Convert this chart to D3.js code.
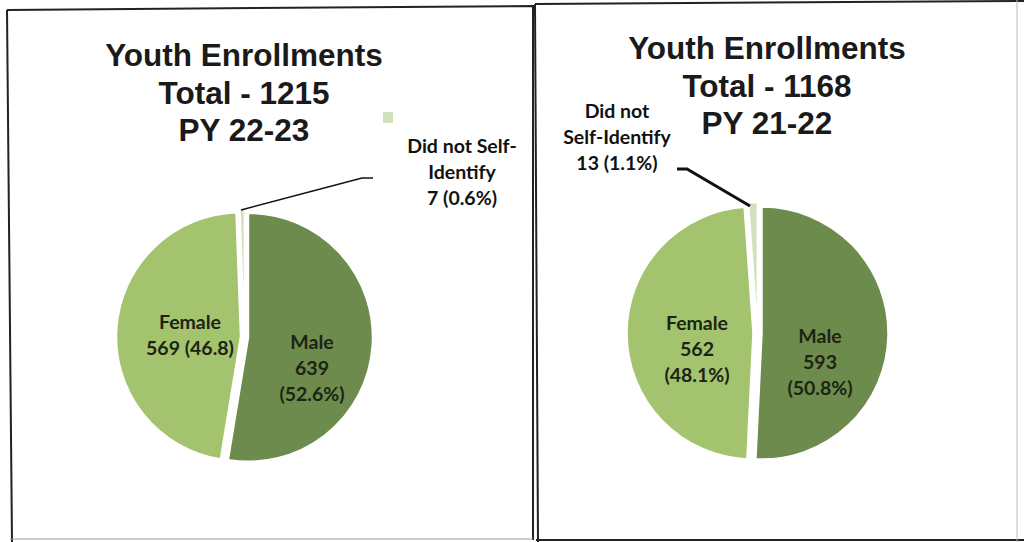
<!DOCTYPE html>
<html>
<head>
<meta charset="utf-8">
<script src="https://cdn.jsdelivr.net/npm/d3@7"></script>
<style>
  html, body { margin: 0; padding: 0; background: #fff; }
  svg { display: block; }
</style>
</head>
<body>
<svg id="chart" width="1024" height="542"></svg>
<script>
// ---- data ----
const categories = ["Male", "Female", "Did not Self-Identify"];
const valuesPY2223 = [639, 569, 7];
const valuesPY2122 = [593, 562, 13];
const titlePY2223 = ["Youth Enrollments", "Total - 1215", "PY 22-23"];
const titlePY2122 = ["Youth Enrollments", "Total - 1168", "PY 21-22"];
const labelsPY2223 = [["Male", "639", "(52.6%)"], ["Female", "569 (46.8)"], ["Did not Self-", "Identify", "7 (0.6%)"]];
const labelsPY2122 = [["Male", "593", "(50.8%)"], ["Female", "562", "(48.1%)"], ["Did not", "Self-Identify", "13 (1.1%)"]];

const colors = d3.scaleOrdinal().domain(categories).range(["#6c8b4c", "#a4c36e", "#cfe2bd"]);

const svg = d3.select("#chart");

// scanned panel frames
svg.append("path").attr("d", "M7,10 L533,6 L533,540 M7,10 L12,542")
  .attr("fill", "none").attr("stroke", "#222").attr("stroke-width", 2);
svg.append("path").attr("d", "M535,4 L1024,1 M535,4 L538,542 M536,540 L1024,540")
  .attr("fill", "none").attr("stroke", "#222").attr("stroke-width", 2);
svg.append("line").attr("x1", 1017).attr("y1", 0).attr("x2", 1017).attr("y2", 542)
  .attr("stroke", "#bbb").attr("stroke-width", 1);
svg.append("line").attr("x1", 10).attr("y1", 539).attr("x2", 533).attr("y2", 539)
  .attr("stroke", "#999").attr("stroke-width", 1);

function drawPie(cfg) {
  const g = svg.append("g");
  // title
  cfg.title.forEach((t, i) => {
    g.append("text")
      .attr("x", cfg.titleX).attr("y", cfg.titleY + i * 37.5)
      .attr("text-anchor", "middle")
      .attr("font-family", "'Liberation Sans', Arial, sans-serif")
      .attr("font-weight", "bold").attr("font-size", 31.5)
      .attr("fill", "#1a1a1a").text(t);
  });

  const pie = d3.pie().sort(null).value(d => d.v);
  const arcs = pie(categories.map((c, i) => ({ c, v: cfg.values[i], lab: cfg.labels[i] })));
  const arc = d3.arc().innerRadius(0).outerRadius(cfg.r);
  const pg = g.append("g").attr("transform", `translate(${cfg.cx},${cfg.cy})`);

  arcs.forEach(a => {
    const mid = (a.startAngle + a.endAngle) / 2;
    const dx = Math.sin(mid) * cfg.explode, dy = -Math.cos(mid) * cfg.explode;
    pg.append("path")
      .attr("d", arc(a))
      .attr("transform", `translate(${dx},${dy})`)
      .attr("fill", colors(a.data.c))
      .attr("stroke", "#fff").attr("stroke-width", 1.5);
  });

  const font = "Lato, 'Open Sans', sans-serif";
  // in-slice labels
  [0, 1].forEach(k => {
    const lp = cfg.labelPos[k];
    arcs[k].data.lab.forEach((t, i) => {
      g.append("text")
        .attr("x", lp[0]).attr("y", lp[1] + i * 26)
        .attr("text-anchor", "middle").attr("dominant-baseline", "central")
        .attr("font-family", font)
        .attr("font-weight", "bold").attr("font-size", 19.5)
        .attr("fill", "#1c2414").text(t);
    });
  });
  // outside label
  const op = cfg.labelPos[2];
  arcs[2].data.lab.forEach((t, i) => {
    g.append("text")
      .attr("x", op[0]).attr("y", op[1] + i * 26)
      .attr("text-anchor", "middle").attr("dominant-baseline", "central")
      .attr("font-family", font)
      .attr("font-weight", "bold").attr("font-size", 19.5)
      .attr("fill", "#111").text(t);
  });
  // leader line
  g.append("path").attr("d", d3.line()(cfg.leader))
    .attr("fill", "none").attr("stroke", "#111").attr("stroke-width", cfg.leaderW);
}

drawPie({
  values: valuesPY2223, title: titlePY2223, labels: labelsPY2223,
  cx: 244.5, cy: 337, r: 124, explode: 4,
  titleX: 244, titleY: 66,
  labelPos: [[312, 341], [190, 321], [462, 145]],
  leader: [[241, 210], [362, 178], [373, 178]], leaderW: 1.5
});
drawPie({
  values: valuesPY2122, title: titlePY2122, labels: labelsPY2122,
  cx: 757.5, cy: 333, r: 126, explode: 4.5,
  titleX: 767, titleY: 59,
  labelPos: [[820, 335], [697, 322], [617, 110]],
  leader: [[677, 169], [687, 169], [750, 206]], leaderW: 3
});

// stray legend marker in left panel
svg.append("rect").attr("x", 383).attr("y", 112).attr("width", 10).attr("height", 11)
  .attr("fill", colors("Did not Self-Identify"));
</script>
</body>
</html>
